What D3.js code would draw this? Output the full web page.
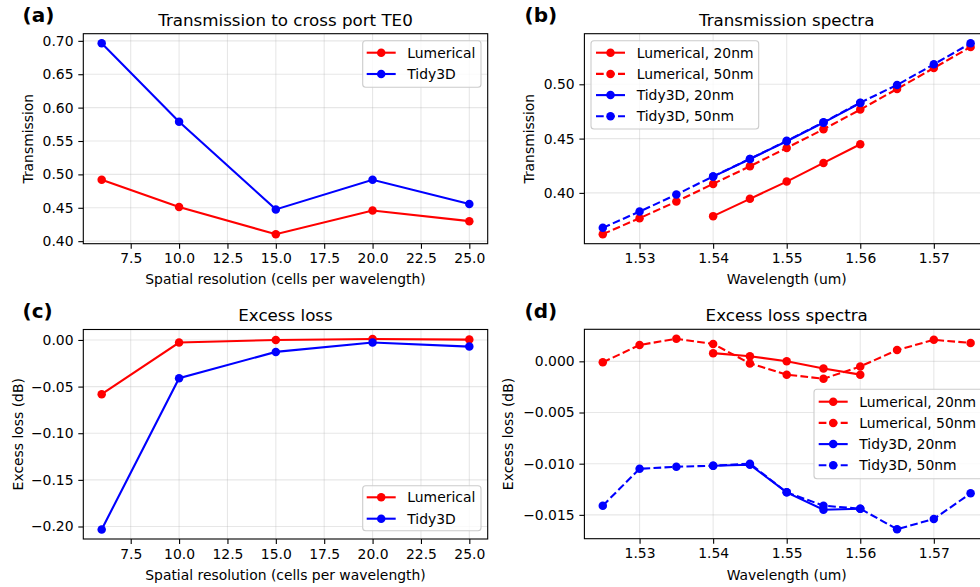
<!DOCTYPE html>
<html><head><meta charset="utf-8">
<script src="https://cdn.jsdelivr.net/npm/d3@7"></script>
<style>
body{margin:0;background:#fff}
svg{display:block;font-family:"DejaVu Sans",sans-serif}
</style>
</head><body>
<svg id="chart" width="980" height="587"></svg>
<script>
// ---------------- data ----------------
const resolution = [6, 10, 15, 20, 25];
const transLumerical = [0.492, 0.451, 0.4105, 0.446, 0.430];
const transTidy3D = [0.6964, 0.5788, 0.4476, 0.492, 0.4556];
const lossLumerical = [-0.0581, -0.0028, 0.0000, 0.0010, 0.0004];
const lossTidy3D = [-0.2032, -0.0410, -0.0128, -0.0028, -0.0071];

const wl20 = [1.540, 1.545, 1.550, 1.555, 1.560];
const wl50 = [1.525, 1.530, 1.535, 1.540, 1.545, 1.550, 1.555, 1.560, 1.565, 1.570, 1.575];
const specLum20 = [0.3786, 0.3945, 0.4104, 0.4276, 0.4448];
const specLum50 = [0.3620, 0.3767, 0.3920, 0.4083, 0.4245, 0.4414, 0.4586, 0.4767, 0.4957, 0.5150, 0.5344];
const specTidy20 = [0.4150, 0.4312, 0.4475, 0.4647, 0.4827];
const specTidy50 = [0.3678, 0.3828, 0.3985, 0.4152, 0.4313, 0.4479, 0.4651, 0.4831, 0.4994, 0.5184, 0.5378];

const elLum20 = [0.0008, 0.0005, 0.0000, -0.0007, -0.0013];
const elLum50 = [-0.0001, 0.0016, 0.0022, 0.0017, -0.0002, -0.0013, -0.0017, -0.0005, 0.0011, 0.0021, 0.0018];
const elTidy20 = [-0.0102, -0.0101, -0.0128, -0.0145, -0.0144];
const elTidy50 = [-0.0141, -0.0105, -0.0103, -0.0102, -0.0100, -0.0128, -0.0141, -0.0144, -0.0164, -0.0154, -0.0129];

const resTicks = [7.5, 10, 12.5, 15, 17.5, 20, 22.5, 25];
const transTicks = [0.40, 0.45, 0.50, 0.55, 0.60, 0.65, 0.70];
const lossTicks = [0.00, -0.05, -0.10, -0.15, -0.20];
const wlTicks = [1.53, 1.54, 1.55, 1.56, 1.57];
const specTicks = [0.40, 0.45, 0.50];
const elTicks = [0.000, -0.005, -0.010, -0.015];

const names2 = ["Lumerical", "Tidy3D"];
const names4 = ["Lumerical, 20nm", "Lumerical, 50nm", "Tidy3D, 20nm", "Tidy3D, 50nm"];
const colors = {Lumerical: "#ff0000", Tidy3D: "#0000ff"};

// ---------------- drawing ----------------
const svg = d3.select("#chart");
const FS = 13.9, TFS = 16.7, LW = 2.1, MR = 4.25, DASH = "7.7,3.3";
const minus = s => s.replace("-", "\u2212");

function padExtent(vals) {
  const [a, b] = d3.extent(vals);
  const m = (b - a) * 0.05;
  return [a - m, b + m];
}

function panel(o) {
  const g = svg.append("g");
  const x = d3.scaleLinear().domain(padExtent(o.series.flatMap(s => s.x))).range([o.l, o.r]);
  const y = d3.scaleLinear().domain(padExtent(o.series.flatMap(s => s.y))).range([o.b, o.t]);

  // grid
  const grid = g.append("g").attr("stroke", "#b0b0b0").attr("stroke-opacity", 0.3).attr("stroke-width", 1.1);
  o.xticks.forEach(v => grid.append("line").attr("x1", x(v)).attr("x2", x(v)).attr("y1", o.t).attr("y2", o.b));
  o.yticks.forEach(v => grid.append("line").attr("x1", o.l).attr("x2", o.r).attr("y1", y(v)).attr("y2", y(v)));

  // series
  const line = d3.line().x(d => x(d[0])).y(d => y(d[1]));
  o.series.forEach(s => {
    const pts = s.x.map((v, i) => [v, s.y[i]]);
    g.append("path").attr("d", line(pts)).attr("fill", "none")
      .attr("stroke", s.color).attr("stroke-width", LW)
      .attr("stroke-dasharray", s.dash ? DASH : null);
    g.selectAll(null).data(pts).enter().append("circle")
      .attr("cx", d => x(d[0])).attr("cy", d => y(d[1])).attr("r", MR).attr("fill", s.color);
  });

  // axes
  const xa = g.append("g").attr("transform", `translate(0,${o.b})`)
    .call(d3.axisBottom(x).tickValues(o.xticks).tickFormat(o.xfmt).tickSize(5).tickPadding(4.8));
  const ya = g.append("g").attr("transform", `translate(${o.l},0)`)
    .call(d3.axisLeft(y).tickValues(o.yticks).tickFormat(o.yfmt).tickSize(5).tickPadding(4.8));
  [xa, ya].forEach(a => {
    a.select(".domain").remove();
    a.selectAll(".tick line").attr("stroke", "#000").attr("stroke-width", 1.1);
    a.selectAll(".tick text").attr("font-size", FS).attr("fill", "#000").attr("font-family", "DejaVu Sans");
  });
  g.append("rect").attr("x", o.l).attr("y", o.t).attr("width", o.r - o.l).attr("height", o.b - o.t)
    .attr("fill", "none").attr("stroke", "#000").attr("stroke-width", 1.1);

  // labels
  const cx = (o.l + o.r) / 2;
  g.append("text").attr("x", cx).attr("y", o.titleY).attr("text-anchor", "middle")
    .attr("font-size", TFS).text(o.title);
  g.append("text").attr("x", cx).attr("y", o.xlabY).attr("text-anchor", "middle")
    .attr("font-size", FS).text(o.xlabel);
  g.append("text").attr("transform", `translate(${o.ylabX},${(o.t + o.b) / 2}) rotate(-90)`)
    .attr("text-anchor", "middle").attr("font-size", FS).text(o.ylabel);
  g.append("text").attr("x", o.tagX).attr("y", o.tagY).attr("font-size", 20)
    .attr("font-weight", "bold").text(o.tag);

  // legend
  const L = o.legend;
  g.append("rect").attr("x", L.x).attr("y", L.y).attr("width", L.w).attr("height", L.h)
    .attr("rx", 3).attr("fill", "#fff").attr("fill-opacity", 0.8)
    .attr("stroke", "#cccccc").attr("stroke-width", 1.1);
  o.series.forEach((s, i) => {
    const ry = L.row0 + i * L.step;
    g.append("line").attr("x1", L.hx).attr("x2", L.hx + 29).attr("y1", ry).attr("y2", ry)
      .attr("stroke", s.color).attr("stroke-width", LW)
      .attr("stroke-dasharray", s.dash ? DASH : null);
    g.append("circle").attr("cx", L.hx + 14.5).attr("cy", ry).attr("r", MR).attr("fill", s.color);
    g.append("text").attr("x", L.tx).attr("y", ry).attr("dy", "0.36em")
      .attr("font-size", FS).text(s.label);
  });
}

const f1 = d3.format(".1f"), f2 = v => minus(d3.format(".2f")(v)), f3 = v => minus(d3.format(".3f")(v));

panel({
  l: 83.3, r: 487.7, t: 33.7, b: 243.7,
  series: [
    {x: resolution, y: transLumerical, color: colors.Lumerical, label: names2[0]},
    {x: resolution, y: transTidy3D, color: colors.Tidy3D, label: names2[1]}
  ],
  xticks: resTicks, yticks: transTicks, xfmt: f1, yfmt: f2,
  title: "Transmission to cross port TE0", titleY: 25.8,
  xlabel: "Spatial resolution (cells per wavelength)", xlabY: 283.8,
  ylabel: "Transmission", ylabX: 33.3,
  tag: "(a)", tagX: 22.5, tagY: 22,
  legend: {x: 362.7, y: 40.7, w: 118.3, h: 46.6, row0: 52.7, step: 21.3, hx: 366.7, tx: 407.3}
});

panel({
  l: 584.4, r: 989, t: 33.7, b: 243.7,
  series: [
    {x: wl20, y: specLum20, color: colors.Lumerical, label: names4[0]},
    {x: wl50, y: specLum50, color: colors.Lumerical, dash: true, label: names4[1]},
    {x: wl20, y: specTidy20, color: colors.Tidy3D, label: names4[2]},
    {x: wl50, y: specTidy50, color: colors.Tidy3D, dash: true, label: names4[3]}
  ],
  xticks: wlTicks, yticks: specTicks, xfmt: f2, yfmt: f2,
  title: "Transmission spectra", titleY: 25.8,
  xlabel: "Wavelength (um)", xlabY: 283.8,
  ylabel: "Transmission", ylabX: 534,
  tag: "(b)", tagX: 524.5, tagY: 22,
  legend: {x: 591, y: 40.7, w: 167.7, h: 88.3, row0: 52.7, step: 21.2, hx: 596, tx: 636.7}
});

panel({
  l: 83.3, r: 487.7, t: 329.5, b: 539,
  series: [
    {x: resolution, y: lossLumerical, color: colors.Lumerical, label: names2[0]},
    {x: resolution, y: lossTidy3D, color: colors.Tidy3D, label: names2[1]}
  ],
  xticks: resTicks, yticks: lossTicks, xfmt: f1, yfmt: f2,
  title: "Excess loss", titleY: 321.3,
  xlabel: "Spatial resolution (cells per wavelength)", xlabY: 579.6,
  ylabel: "Excess loss (dB)", ylabX: 23.3,
  tag: "(c)", tagX: 22.5, tagY: 318,
  legend: {x: 362.7, y: 485.7, w: 118.3, h: 45, row0: 497.3, step: 21.4, hx: 366.7, tx: 407.3}
});

panel({
  l: 584.4, r: 989, t: 329.3, b: 538.7,
  series: [
    {x: wl20, y: elLum20, color: colors.Lumerical, label: names4[0]},
    {x: wl50, y: elLum50, color: colors.Lumerical, dash: true, label: names4[1]},
    {x: wl20, y: elTidy20, color: colors.Tidy3D, label: names4[2]},
    {x: wl50, y: elTidy50, color: colors.Tidy3D, dash: true, label: names4[3]}
  ],
  xticks: wlTicks, yticks: elTicks, xfmt: f2, yfmt: f3,
  title: "Excess loss spectra", titleY: 321.3,
  xlabel: "Wavelength (um)", xlabY: 579.6,
  ylabel: "Excess loss (dB)", ylabX: 513.3,
  tag: "(d)", tagX: 524.5, tagY: 318,
  legend: {x: 814, y: 389.3, w: 170, h: 89.4, row0: 401.7, step: 21.2, hx: 818.7, tx: 859.3}
});
</script>
</body></html>
